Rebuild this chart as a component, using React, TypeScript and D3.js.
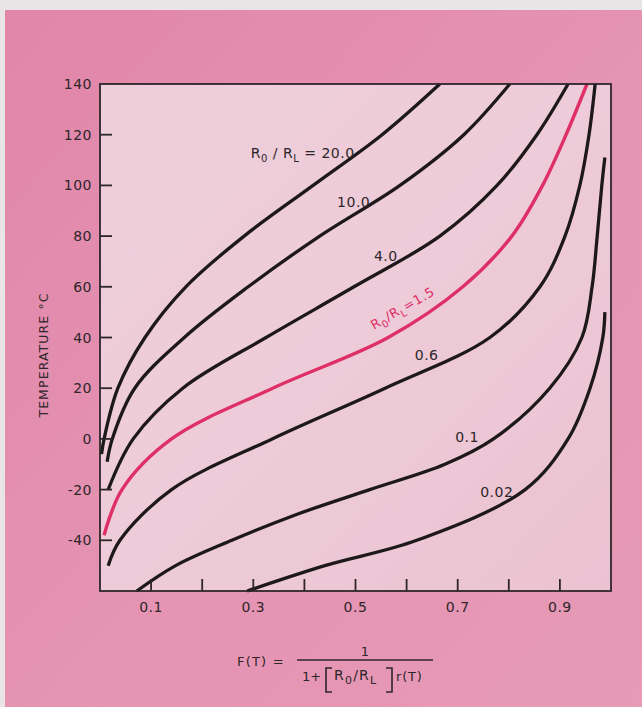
import React from 'react';
import * as d3 from 'd3';

// ---- data (F(T), temperature °C) ----
const curve20: [number, number][] = [[0.003, -6], [0.008, 0], [0.035, 20], [0.088, 40], [0.168, 60], [0.282, 80], [0.417, 100], [0.552, 120], [0.665, 140]];
const curve10: [number, number][] = [[0.014, -9], [0.024, 0], [0.068, 20], [0.165, 40], [0.29, 60], [0.43, 80], [0.587, 100], [0.712, 120], [0.802, 140]];
const curve4: [number, number][] = [[0.016, -20], [0.065, 0], [0.162, 20], [0.325, 40], [0.497, 60], [0.665, 80], [0.777, 100], [0.855, 120], [0.916, 140]];
const curve15: [number, number][] = [[0.008, -38], [0.043, -20], [0.14, 0], [0.338, 20], [0.564, 40], [0.71, 60], [0.806, 80], [0.866, 100], [0.912, 120], [0.953, 140]];
const curve06: [number, number][] = [[0.016, -50], [0.039, -40], [0.14, -20], [0.337, 0], [0.558, 20], [0.763, 40], [0.861, 60], [0.91, 80], [0.939, 100], [0.957, 120], [0.969, 140]];
const curve01: [number, number][] = [[0.072, -60], [0.148, -50], [0.258, -40], [0.382, -30], [0.528, -20], [0.675, -10], [0.77, 0], [0.88, 20], [0.943, 40], [0.963, 60], [0.973, 80], [0.982, 100], [0.988, 111]];
const curve002: [number, number][] = [[0.288, -60], [0.44, -50], [0.62, -40], [0.832, -20], [0.916, 0], [0.959, 20], [0.984, 40], [0.988, 50]];

const xTicks = [0.1, 0.2, 0.3, 0.4, 0.5, 0.6, 0.7, 0.8, 0.9];
const xTickLabels = ['0.1', '0.3', '0.5', '0.7', '0.9'];
const yTicks = [-40, -20, 0, 20, 40, 60, 80, 100, 120];
const yTickLabels = ['-40', '-20', '0', '20', '40', '60', '80', '100', '120', '140'];

const FONT = '"DejaVu Sans", sans-serif';
const INK = '#2e2629';
const RED = '#de2f67';

export default function App() {
  const W = 642, H = 707;
  const x = d3.scaleLinear().domain([0, 1]).range([100, 611]);
  const y = d3.scaleLinear().domain([-60, 140]).range([591, 84]);
  const line = d3.line<[number, number]>()
    .x(d => x(d[0]))
    .y(d => y(d[1]))
    .curve(d3.curveCatmullRom.alpha(0.5));

  const blackCurves = [curve20, curve10, curve4, curve06, curve01, curve002];

  const sub = (t: string, fs = 10) => (
    <tspan fontSize={fs} dy={4}>{t}</tspan>
  );

  // label anchors in data coordinates
  const lbl = (f: number, t: number) => ({ px: x(f), py: y(t) });
  const l20 = lbl(0.295, 110.8);
  const l10 = lbl(0.464, 91.5);
  const l4 = lbl(0.536, 70.2);
  const l15 = lbl(0.536, 43);
  const l06 = lbl(0.616, 31.1);
  const l01 = lbl(0.695, -1.2);
  const l002 = lbl(0.744, -22.9);

  return (
    <svg width={W} height={H} style={{ position: 'absolute', left: 0, top: 0, display: 'block' }}
      fontFamily={FONT}>
      <defs>
        <linearGradient id="outer" x1="0" y1="0" x2="1" y2="1">
          <stop offset="0" stopColor="#e186a9" />
          <stop offset="0.5" stopColor="#e593b2" />
          <stop offset="1" stopColor="#e69ab6" />
        </linearGradient>
        <linearGradient id="inner" x1="0" y1="0" x2="1" y2="1">
          <stop offset="0" stopColor="#edcfda" />
          <stop offset="0.5" stopColor="#eecbd8" />
          <stop offset="1" stopColor="#ebc2d1" />
        </linearGradient>
      </defs>
      <rect x={0} y={0} width={W} height={H} fill="#e9e4e6" />
      <rect x={5} y={10} width={W - 5} height={H - 10} fill="url(#outer)" />
      <rect x={x(0)} y={y(140)} width={x(1) - x(0)} height={y(-60) - y(140)} fill="url(#inner)" />

      {/* curves */}
      {blackCurves.map((c, i) => (
        <path key={i} d={line(c) || ''} fill="none" stroke="#1d191b" strokeWidth={3.3} />
      ))}
      <path d={line(curve15) || ''} fill="none" stroke={RED} strokeWidth={3.4} />

      {/* frame */}
      <rect x={x(0)} y={y(140)} width={x(1) - x(0)} height={y(-60) - y(140)} fill="none" stroke={INK} strokeWidth={1.8} />

      {/* y ticks */}
      {yTicks.map(v => (
        <line key={'yt' + v} x1={x(0)} x2={x(0) + 12} y1={y(v)} y2={y(v)} stroke={INK} strokeWidth={1.8} />
      ))}
      {yTickLabels.map(s => (
        <text key={'yl' + s} x={92} y={y(+s) + 5} textAnchor="end" fontSize={14} fill={INK} letterSpacing={0.5}>{s}</text>
      ))}
      {/* x ticks */}
      {xTicks.map(v => (
        <line key={'xt' + v} x1={x(v)} x2={x(v)} y1={y(-60)} y2={y(-60) - 12} stroke={INK} strokeWidth={1.8} />
      ))}
      {xTickLabels.map(s => (
        <text key={'xl' + s} x={x(+s)} y={612} textAnchor="middle" fontSize={14} fill={INK} letterSpacing={0.5}>{s}</text>
      ))}

      {/* axis title */}
      <text transform={`translate(48,355) rotate(-90)`} textAnchor="middle" fontSize={12.5} fill={INK} letterSpacing={1.1}>TEMPERATURE °C</text>

      {/* curve labels */}
      <text x={l20.px} y={l20.py} fontSize={14} fill={INK} letterSpacing={0.5}>R{sub('0')}<tspan dy={-4}> / R</tspan>{sub('L')}<tspan dy={-4}> = 20.0</tspan></text>
      <text x={l10.px} y={l10.py} fontSize={14} fill={INK} letterSpacing={0.5}>10.0</text>
      <text x={l4.px} y={l4.py} fontSize={14} fill={INK} letterSpacing={0.5}>4.0</text>
      <text transform={`translate(${l15.px},${l15.py}) rotate(-30)`} fontSize={13} fill={RED} letterSpacing={0.6}>R{sub('0')}<tspan dy={-4}>/R</tspan>{sub('L')}<tspan dy={-4}>=1.5</tspan></text>
      <text x={l06.px} y={l06.py} fontSize={14} fill={INK} letterSpacing={0.5}>0.6</text>
      <text x={l01.px} y={l01.py} fontSize={14} fill={INK} letterSpacing={0.5}>0.1</text>
      <text x={l002.px} y={l002.py} fontSize={14} fill={INK} letterSpacing={0.5}>0.02</text>

      {/* formula */}
      <text x={237} y={666} fontSize={13} fill={INK} letterSpacing={1.2}>F(T) =</text>
      <line x1={297} x2={433} y1={660} y2={660} stroke={INK} strokeWidth={1.3} />
      <text x={365} y={656} textAnchor="middle" fontSize={13} fill={INK}>1</text>
      <text x={302} y={681} fontSize={13} fill={INK}>1+</text>
      <path d="M332,668 H326 V692 H332" fill="none" stroke={INK} strokeWidth={1.6} />
      <text x={334} y={680} fontSize={14} fill={INK} letterSpacing={1.2}>R{sub('0', 11)}<tspan dy={-4}>/R</tspan>{sub('L', 11)}</text>
      <path d="M386,668 H392 V692 H386" fill="none" stroke={INK} strokeWidth={1.6} />
      <text x={396} y={681} fontSize={13} fill={INK} letterSpacing={0.8}>r(T)</text>
    </svg>
  );
}
